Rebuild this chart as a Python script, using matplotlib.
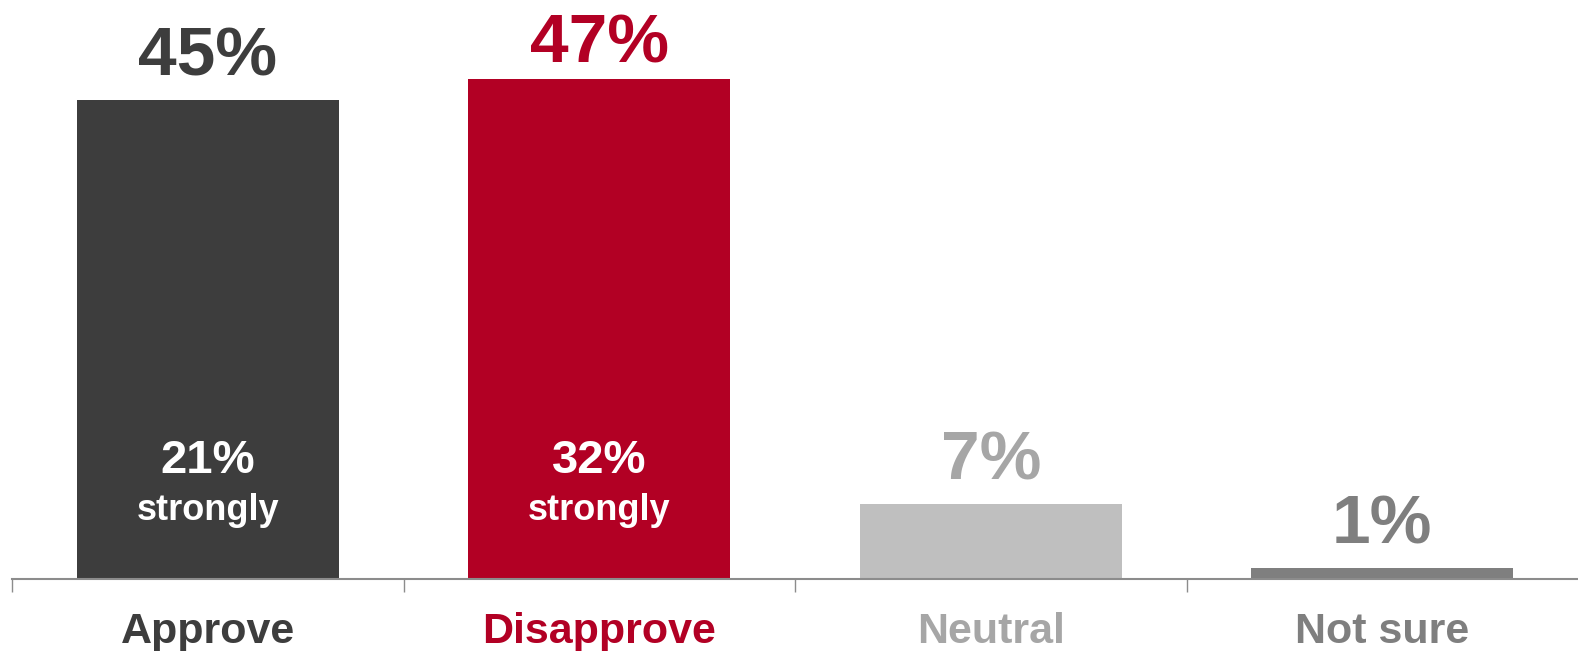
import matplotlib
matplotlib.use('Agg')
import matplotlib.pyplot as plt

plt.rcParams['font.family'] = ['Liberation Sans', 'DejaVu Sans']
plt.rcParams['font.weight'] = 'bold'

categories = ['Approve', 'Disapprove', 'Neutral', 'Not sure']
values = [45, 47, 7, 1]
strongly = [21, 32, None, None]

bar_colors = ['#3d3d3d', '#b20024', '#bfbfbf', '#7f7f7f']
text_colors = ['#3d3d3d', '#b20024', '#a6a6a6', '#7f7f7f']
# label gap above bar (points); tallest one sits a bit lower to fit the frame
label_gap = [18, 12, 18, 18]

fig = plt.figure(figsize=(15.78, 6.51), dpi=100)
ax = fig.add_axes([12 / 1578, 72 / 651, 1 - 12 / 1578, 1 - 72 / 651])

x = range(len(categories))
ax.bar(x, values, width=0.67, color=bar_colors, zorder=2)

ax.set_xlim(-0.5, 3.5)
ax.set_ylim(0, 54.4)

for s in ['top', 'right', 'left']:
    ax.spines[s].set_visible(False)
ax.spines['bottom'].set_color('#8c8c8c')
ax.spines['bottom'].set_linewidth(1.5)
ax.set_yticks([])

# ticks at category boundaries
ax.set_xticks([-0.5, 0.5, 1.5, 2.5])
ax.set_xticklabels([])
ax.tick_params(axis='x', which='major', length=9, width=1, color='#8c8c8c', direction='out')

for i, v in enumerate(values):
    ax.annotate(f'{v}%', xy=(i, v), xytext=(0, label_gap[i]), textcoords='offset points',
                ha='center', va='baseline', fontsize=50, fontweight='bold',
                color=text_colors[i])
    ax.annotate(categories[i], xy=(i, 0), xytext=(0, -46), textcoords='offset points',
                ha='center', va='baseline', fontsize=31, fontweight='bold',
                color=text_colors[i], annotation_clip=False)
    if strongly[i] is not None:
        ax.annotate(f'{strongly[i]}%', xy=(i, 0), xytext=(0, 76), textcoords='offset points',
                    ha='center', va='baseline', fontsize=34, fontweight='bold', color='white')
        ax.annotate('strongly', xy=(i, 0), xytext=(0, 42.5), textcoords='offset points',
                    ha='center', va='baseline', fontsize=26, fontweight='bold', color='white')

fig.savefig('out.png', dpi=100, facecolor='white')
